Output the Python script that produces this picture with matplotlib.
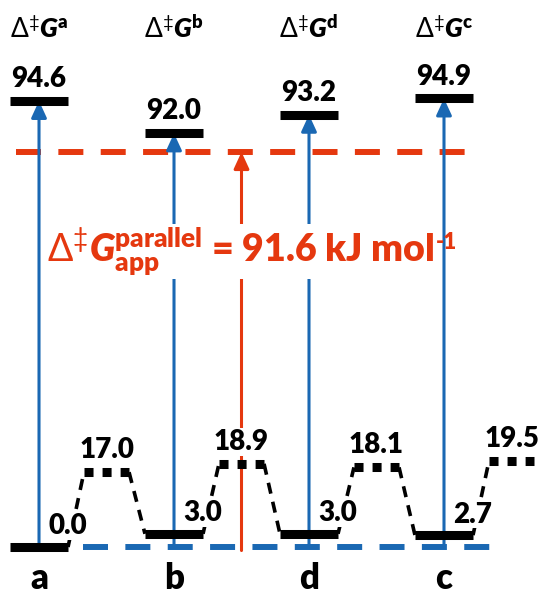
import numpy as np
import matplotlib
matplotlib.use("Agg")
import matplotlib.pyplot as plt

plt.rcParams["font.family"] = ["Lato", "DejaVu Sans"]
plt.rcParams["mathtext.fontset"] = "custom"
plt.rcParams["mathtext.rm"] = "Lato"
plt.rcParams["mathtext.bf"] = "Lato:weight=800"
plt.rcParams["mathtext.it"] = "Lato:italic"
plt.rcParams["mathtext.bfit"] = "Lato:italic:weight=800"
plt.rcParams["lines.scale_dashes"] = False

# ---- energies (kJ/mol) ----
columns = ["a", "b", "d", "c"]
barrier_names = [r"$\Delta^{\ddag}\mathbfit{G}^{\mathbf{a}}$",
                 r"$\Delta^{\ddag}\mathbfit{G}^{\mathbf{b}}$",
                 r"$\Delta^{\ddag}\mathbfit{G}^{\mathbf{d}}$",
                 r"$\Delta^{\ddag}\mathbfit{G}^{\mathbf{c}}$"]
barrier = [94.6, 92.0, 93.2, 94.9]          # rate-determining TS of each pathway
minima = [0.0, 3.0, 3.0, 2.7]                # resting states
interconversion = [17.0, 18.9, 18.1, 19.5]   # TS between neighbouring states
apparent = 91.6                              # apparent barrier, parallel pathways

BLUE = "#1a68b3"
RED = "#e5380f"
HEAVY = 800

# broken energy axis: linear for the low region, compressed gap,
# square-root spread above the apparent barrier
LOW_TOP, LOW_K = 20.0, 4.4
GAP_K = (395.0 - LOW_TOP * LOW_K) / (apparent - LOW_TOP)
HIGH_K = 29.5


def fwd(v):
    v = np.asarray(v, dtype=float)
    low = v * LOW_K
    mid = LOW_TOP * LOW_K + (v - LOW_TOP) * GAP_K
    high = 395.0 + HIGH_K * np.sqrt(np.clip(v - apparent, 0, None))
    return np.where(v <= LOW_TOP, low, np.where(v <= apparent, mid, high))


def inv(u):
    u = np.asarray(u, dtype=float)
    low = u / LOW_K
    mid = LOW_TOP + (u - LOW_TOP * LOW_K) / GAP_K
    high = apparent + (np.clip(u - 395.0, 0, None) / HIGH_K) ** 2
    return np.where(u <= LOW_TOP * LOW_K, low,
                    np.where(u <= 395.0, mid, high))


fig = plt.figure(figsize=(5.42, 5.95), dpi=100)
ax = fig.add_axes([0, 0, 1, 1])
ax.set_yscale("function", functions=(fwd, inv))
ax.set_xlim(-0.289, 3.726)
ax.set_ylim(float(inv(-48)), float(inv(547)))
ax.axis("off")

x = np.arange(len(columns))
hw = 0.215      # half width of a state bar
tw = 0.167      # half width of a dotted TS bar
bar_lw = 6.5

# apparent barrier (red dashed) and zero reference (blue dashed)
ax.plot([-0.17, 3.21], [apparent, apparent], color=RED, lw=4.3,
        dashes=(18, 12.5), dash_capstyle="butt", zorder=1)
ax.plot([0.326, 3.385], [0, 0], color=BLUE, lw=4.3,
        dashes=(18, 12.5), dash_capstyle="butt", zorder=1)

# barrier arrows
arrow_style = "-|>,head_length=10,head_width=4.6"
for xi, b in zip(x, barrier):
    ax.annotate("", xy=(xi, b), xytext=(xi, 0),
                arrowprops=dict(arrowstyle=arrow_style, color=BLUE, lw=2.2,
                                shrinkA=0, shrinkB=0, mutation_scale=1),
                zorder=2)
ax.annotate("", xy=(1.5, apparent), xytext=(1.5, -0.8),
            arrowprops=dict(arrowstyle=arrow_style, color=RED, lw=2.2,
                            shrinkA=0, shrinkB=0, mutation_scale=1),
            zorder=2)

# connectors between resting states and interconversion TSs
for i in range(len(columns)):
    ts_x = x[i] + 0.5
    ax.plot([x[i] + hw, ts_x - tw], [minima[i], interconversion[i]],
            color="black", lw=2.6, dashes=(8, 6), zorder=3)
    if i + 1 < len(columns):
        ax.plot([ts_x + tw, x[i + 1] - hw],
                [interconversion[i], minima[i + 1]],
                color="black", lw=2.6, dashes=(8, 6), zorder=3)

# state bars
ax.hlines(barrier, x - hw, x + hw, color="black", lw=bar_lw,
          capstyle="butt", zorder=4)
ax.hlines(minima, x - hw, x + hw, color="black", lw=bar_lw,
          capstyle="butt", zorder=4)
for xi, e in zip(x + 0.5, interconversion):
    ax.plot([xi - tw, xi + tw], [e, e], color="black", lw=bar_lw,
            dashes=(bar_lw, bar_lw), dash_capstyle="butt", zorder=4)

# value labels
val_kw = dict(fontsize=20, fontweight=HEAVY, ha="center", va="baseline",
              textcoords="offset points", zorder=6)
white = dict(facecolor="white", edgecolor="none", pad=0.5)
for xi, b in zip(x, barrier):
    ax.annotate(f"{b:.1f}", xy=(xi, b), xytext=(0, 10), **val_kw)
for xi, e in zip(x + hw, minima):
    ax.annotate(f"{e:.1f}", xy=(xi, e), xytext=(0, 9), bbox=white, **val_kw)
for xi, e in zip(x + 0.5, interconversion):
    ax.annotate(f"{e:.1f}", xy=(xi, e), xytext=(0, 10), bbox=white, **val_kw)

# headers and pathway letters
xt = ax.get_xaxis_transform()
for xi, name, col in zip(x, barrier_names, columns):
    ax.text(xi, 0.936, name, transform=xt, fontsize=19, ha="center",
            va="baseline")
    ax.text(xi, 0.0, col, transform=xt, fontsize=25, fontweight=HEAVY,
            ha="center", va="bottom")

# apparent barrier annotation
app = ax.text(0.087, 0.56,
              r"$\Delta^{\ddag}\mathbfit{G}^{\mathbf{parallel}}_{\mathbf{app}}$"
              r" = 91.6 kJ mol",
              transform=ax.transAxes, color=RED, fontsize=27,
              fontweight=HEAVY, ha="left", va="baseline", zorder=7,
              bbox=dict(facecolor="white", edgecolor="none", pad=1))
ax.annotate("-1", xy=(1.0, 0.0), xycoords=app, xytext=(1, 21),
            textcoords="offset points", color=RED, fontsize=16,
            fontweight=HEAVY, ha="left", va="baseline", zorder=7)

fig.savefig("out.png", dpi=100)
